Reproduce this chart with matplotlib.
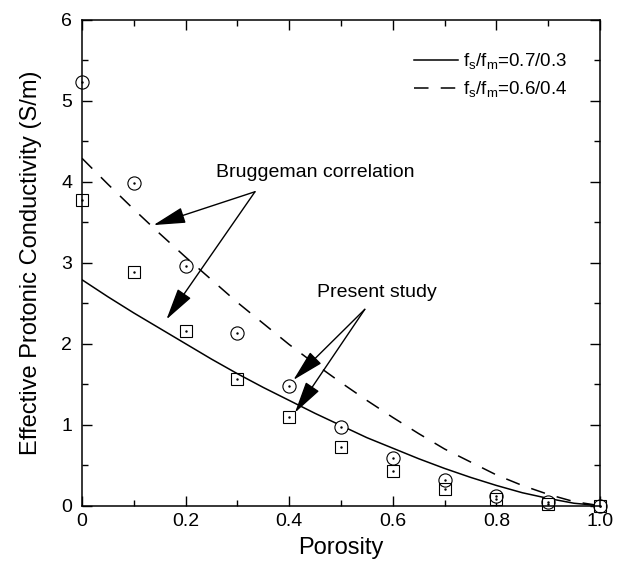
import matplotlib.pyplot as plt
import numpy as np

plt.rcParams['font.family'] = 'Liberation Sans'
plt.rcParams['mathtext.fontset'] = 'custom'
plt.rcParams['mathtext.rm'] = 'Liberation Sans'

# Measured points (circles: fs/fm=0.6/0.4, squares: fs/fm=0.7/0.3)
porosity = [0.0, 0.1, 0.2, 0.3, 0.4, 0.5, 0.6, 0.7, 0.8, 0.9, 1.0]
sigma_circle = [5.23, 3.98, 2.96, 2.13, 1.48, 0.97, 0.59, 0.32, 0.12, 0.04, 0.0]
sigma_square = [3.77, 2.88, 2.16, 1.56, 1.09, 0.72, 0.43, 0.21, 0.08, 0.02, 0.0]

# Bruggeman correlation curves
eps_line = [0.0, 0.05, 0.1, 0.15, 0.2, 0.25, 0.3, 0.35, 0.4, 0.45, 0.5,
            0.55, 0.6, 0.65, 0.7, 0.75, 0.8, 0.85, 0.9, 0.95, 1.0]
brug_07 = [2.79, 2.58, 2.38, 2.19, 2.00, 1.81, 1.63, 1.46, 1.30, 1.14, 0.99,
           0.84, 0.71, 0.58, 0.46, 0.35, 0.25, 0.16, 0.09, 0.03, 0.0]
brug_06 = [4.29, 3.97, 3.66, 3.36, 3.07, 2.79, 2.51, 2.25, 1.99, 1.75, 1.52,
           1.30, 1.09, 0.89, 0.70, 0.54, 0.38, 0.25, 0.14, 0.05, 0.0]

fig = plt.figure(figsize=(6.17, 5.63), dpi=100)
ax = fig.add_axes([0.1329, 0.1018, 0.8395, 0.8630])

ax.plot(eps_line, brug_07, '-', color='black', lw=1.1, label=r'f$_\mathrm{s}$/f$_\mathrm{m}$=0.7/0.3')
ax.plot(eps_line, brug_06, '--', color='black', lw=1.1, dashes=(9.5, 8),
        label=r'f$_\mathrm{s}$/f$_\mathrm{m}$=0.6/0.4')

# open markers with a tiny dot in the middle
ax.plot(porosity, sigma_circle, 'o', ms=9.5, mfc='white', mec='black', mew=0.8, clip_on=False)
ax.plot(porosity, sigma_circle, '.', ms=1.5, color='black', clip_on=False)
ax.plot(porosity, sigma_square, 's', ms=8, mfc='none', mec='black', mew=0.8, clip_on=False)
ax.plot(porosity, sigma_square, '.', ms=1.5, color='black', clip_on=False)

arrow = dict(arrowstyle='-|>,head_length=1.0,head_width=0.25', color='black',
             lw=1.0, shrinkA=0, shrinkB=0, mutation_scale=20)
for tip in [(0.138, 3.465), (0.163, 2.30)]:
    ax.annotate('', xy=tip, xytext=(0.334, 3.877), arrowprops=arrow)
for tip in [(0.408, 1.552), (0.411, 1.148)]:
    ax.annotate('', xy=tip, xytext=(0.546, 2.425), arrowprops=arrow)
ax.text(0.451, 4.12, 'Bruggeman correlation', fontsize=14, ha='center', va='center')
ax.text(0.570, 2.63, 'Present study', fontsize=14, ha='center', va='center')

ax.set_xlim(0, 1.0)
ax.set_ylim(0, 6)
ax.set_xticks([0, 0.2, 0.4, 0.6, 0.8, 1.0])
ax.set_xticklabels(['0', '0.2', '0.4', '0.6', '0.8', '1.0'])
ax.set_xticks(np.arange(0.1, 1.0, 0.2), minor=True)
ax.set_yticks(range(0, 7))
ax.set_yticks(np.arange(0.5, 6, 1.0), minor=True)
ax.tick_params(which='both', direction='in', top=True, right=True, labelsize=14, width=1.0)
ax.tick_params(axis='y', pad=7)
ax.tick_params(axis='x', pad=5)
ax.tick_params(which='major', length=7)
ax.tick_params(which='minor', length=4.5)
for s in ax.spines.values():
    s.set_linewidth(1.1)

ax.set_xlabel('Porosity', fontsize=17, labelpad=5)
ax.set_ylabel('Effective Protonic Conductivity (S/m)', fontsize=17, labelpad=14)

ax.legend(loc='upper right', frameon=False, fontsize=13.5, handlelength=2.3,
          handletextpad=0.3, labelspacing=0.45, bbox_to_anchor=(0.97, 0.97))

fig.savefig('out.png', dpi=100, facecolor='white')
